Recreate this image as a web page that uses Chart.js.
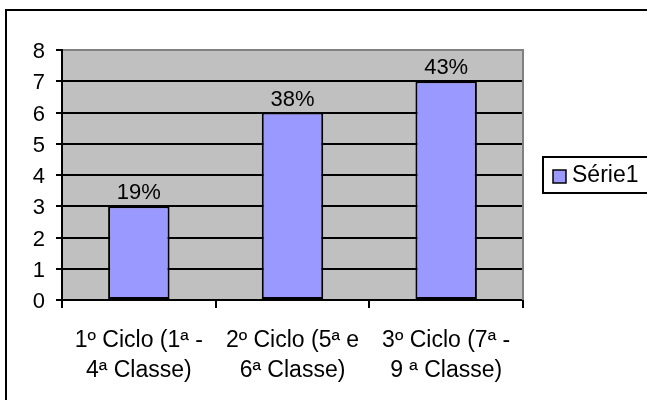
<!DOCTYPE html>
<html>
<head>
<meta charset="utf-8">
<script src="https://cdn.jsdelivr.net/npm/chart.js@4"></script>
<style>
  html, body { margin: 0; padding: 0; background: #fff; }
  canvas { display: block; }
</style>
</head>
<body>
<canvas id="chart" width="647" height="400"></canvas>
<script>
// Categories (two-line labels), series values and the percentage shown above each bar
const categories = [
  ['1º Ciclo (1ª -', '4ª Classe)'],
  ['2º Ciclo (5ª e', '6ª Classe)'],
  ['3º Ciclo (7ª -', '9 ª Classe)']
];
const seriesName = 'Série1';
const values = [3, 6, 7];
const valueLabels = ['19%', '38%', '43%'];
const yMin = 0;
const yMax = 8;
const yStep = 1;

const FONT = "'Liberation Sans', Arial, sans-serif";
const BAR_FILL = '#9999FF';
const PLOT_FILL = '#C0C0C0';

// Gray plot-area background
const plotBackground = {
  id: 'plotBackground',
  beforeDraw(chart) {
    const { ctx, chartArea: a } = chart;
    ctx.save();
    ctx.fillStyle = PLOT_FILL;
    ctx.fillRect(a.left, a.top, a.right - a.left, a.bottom - a.top);
    ctx.restore();
  }
};

// Percentage text above each bar
const barLabels = {
  id: 'barLabels',
  afterDatasetsDraw(chart) {
    const { ctx } = chart;
    const meta = chart.getDatasetMeta(0);
    ctx.save();
    ctx.font = '22px ' + FONT;
    ctx.fillStyle = '#000';
    ctx.textAlign = 'center';
    ctx.textBaseline = 'middle';
    meta.data.forEach((bar, i) => {
      ctx.fillText(valueLabels[i], bar.x, bar.y - 13);
    });
    ctx.restore();
  }
};

// Plot frame on the right, legend box and the outer chart border
const frameAndLegend = {
  id: 'frameAndLegend',
  afterDraw(chart) {
    const { ctx, chartArea: a } = chart;
    ctx.save();
    // right edge of the plot area
    ctx.strokeStyle = '#808080';
    ctx.lineWidth = 2;
    ctx.beginPath();
    ctx.moveTo(a.right, a.top - 1);
    ctx.lineTo(a.right, a.bottom);
    ctx.stroke();

    // legend
    const lx = 543, ly = 157, lh = 36;
    ctx.strokeStyle = '#000';
    ctx.lineWidth = 2;
    ctx.strokeRect(lx, ly, 200, lh);
    ctx.fillStyle = BAR_FILL;
    ctx.fillRect(553, 170, 13, 13);
    ctx.lineWidth = 1.5;
    ctx.strokeRect(553, 170, 13, 13);
    ctx.fillStyle = '#000';
    ctx.font = '23px ' + FONT;
    ctx.textAlign = 'left';
    ctx.textBaseline = 'middle';
    ctx.fillText(chart.data.datasets[0].label, 572, ly + lh / 2 + 1);

    // outer border
    ctx.lineWidth = 2;
    ctx.strokeRect(6, 10, 700, 450);
    ctx.restore();
  }
};

new Chart(document.getElementById('chart'), {
  type: 'bar',
  data: {
    labels: categories,
    datasets: [{
      label: seriesName,
      data: values,
      backgroundColor: BAR_FILL,
      borderColor: '#000',
      borderWidth: 2,
      borderSkipped: false,
      categoryPercentage: 1,
      barPercentage: 0.4
    }]
  },
  options: {
    responsive: false,
    animation: false,
    events: [],
    layout: { padding: { top: 50, right: 124, left: 0, bottom: 0 } },
    plugins: {
      legend: { display: false },
      tooltip: { enabled: false },
      title: { display: false }
    },
    scales: {
      x: {
        offset: true,
        border: { color: '#000', width: 2 },
        grid: {
          offset: true,
          drawOnChartArea: false,
          drawTicks: true,
          tickLength: 8,
          color: '#000',
          lineWidth: 2
        },
        ticks: {
          color: '#000',
          padding: 18,
          maxRotation: 0,
          autoSkip: false,
          font: { family: FONT, size: 23, lineHeight: '30px' }
        },
        afterFit(scale) { scale.height = 100; }
      },
      y: {
        min: yMin,
        max: yMax,
        border: { color: '#000', width: 2 },
        grid: {
          color: (c) => (c.tick && c.tick.value === yMax ? '#808080' : '#000'),
          tickColor: '#000',
          lineWidth: 2,
          drawTicks: true,
          tickLength: 6
        },
        ticks: {
          stepSize: yStep,
          color: '#000',
          padding: 11,
          labelOffset: 2,
          font: { family: FONT, size: 22 }
        },
        afterFit(scale) { scale.width = 62; }
      }
    }
  },
  plugins: [plotBackground, barLabels, frameAndLegend]
});
</script>
</body>
</html>
